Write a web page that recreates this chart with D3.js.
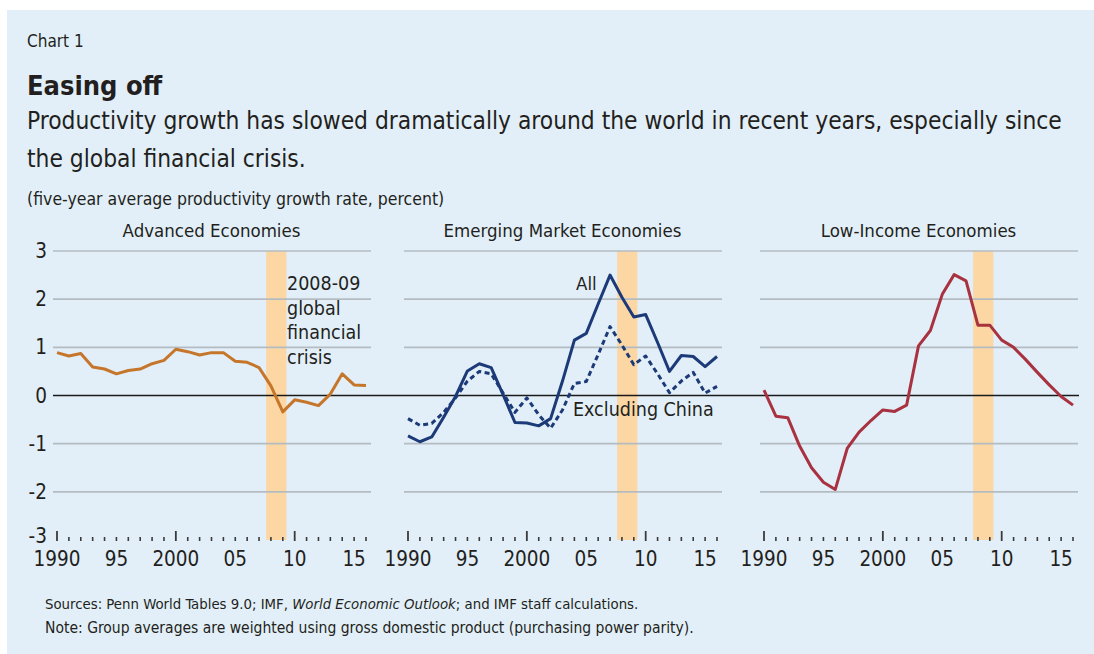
<!DOCTYPE html>
<html><head><meta charset="utf-8">
<script src="https://cdn.jsdelivr.net/npm/d3@7"></script>
<style>
html,body{margin:0;padding:0;background:#fff;}
svg text{font-family:"Liberation Sans Narrow","Arial Narrow","DejaVu Sans Condensed",sans-serif;fill:#231f20;}
</style></head>
<body><svg id="c" width="1094" height="654"></svg>
<script>
const years = d3.range(1990, 2017);
const advanced = [0.89,0.82,0.87,0.59,0.55,0.45,0.52,0.55,0.66,0.73,0.96,0.91,0.84,0.89,0.89,0.71,0.69,0.58,0.2,-0.34,-0.09,-0.14,-0.21,0.03,0.45,0.22,0.21];
const emAll = [-0.84,-0.96,-0.86,-0.45,-0.02,0.51,0.66,0.58,0.02,-0.56,-0.57,-0.63,-0.48,0.3,1.15,1.29,1.9,2.5,2.04,1.63,1.68,1.1,0.5,0.83,0.81,0.6,0.81];
const emExChina = [-0.48,-0.62,-0.58,-0.35,-0.05,0.3,0.5,0.45,0.05,-0.35,-0.05,-0.4,-0.68,-0.3,0.25,0.29,0.85,1.43,1.05,0.64,0.82,0.45,0.06,0.3,0.48,0.05,0.19];
const lowIncome = [0.11,-0.43,-0.46,-1.05,-1.5,-1.8,-1.95,-1.1,-0.76,-0.52,-0.3,-0.33,-0.2,1.03,1.35,2.1,2.51,2.38,1.46,1.46,1.15,1.0,0.75,0.48,0.22,-0.02,-0.2];
const panelTitles = ["Advanced Economies","Emerging Market Economies","Low-Income Economies"];
const yTicks = [3,2,1,0,-1,-2,-3];
const xTickYears = [1990,1995,2000,2005,2010,2015];
const xTickLabels = ["1990","95","2000","05","10","15"];
const crisis = [2007.6, 2009.3];

const svg = d3.select("#c");
svg.append("rect").attr("x",7).attr("y",10).attr("width",1087).attr("height",644).attr("fill","#e2eff8");

const y = d3.scaleLinear().domain([-3,3]).range([540,251]);
const panelX = [57,408,764];
const W = 309;

// header
svg.append("text").attr("x",27).attr("y",47).attr("font-size",17).text("Chart 1");
svg.append("text").attr("x",27).attr("y",95).attr("font-size",27).attr("font-weight","bold").text("Easing off");
svg.append("text").attr("x",27).attr("y",129).attr("font-size",24.3)
  .text("Productivity growth has slowed dramatically around the world in recent years, especially since");
svg.append("text").attr("x",27).attr("y",167).attr("font-size",24.3).text("the global financial crisis.");
svg.append("text").attr("x",27).attr("y",205).attr("font-size",17.5).text("(five-year average productivity growth rate, percent)");

const series = [
  [{v:advanced, color:"#c6762a", dash:null}],
  [{v:emAll, color:"#1c3a78", dash:null},{v:emExChina, color:"#1c3a78", dash:"5,3.5"}],
  [{v:lowIncome, color:"#a8323f", dash:null}]
];

const panels = panelX.map(x0 => d3.scaleLinear().domain([1990,2016]).range([x0, x0+W]));

panels.forEach((x,i) => {
  const g = svg.append("g");
  g.append("rect").attr("x",x(crisis[0])).attr("y",y(3)).attr("width",x(crisis[1])-x(crisis[0]))
    .attr("height",y(-3)-y(3)).attr("fill","#fcd6a3");
  g.selectAll("line.grid").data([3,2,1,-1,-2]).enter().append("line")
    .attr("x1",x(1990)-4).attr("x2",x(2016)+5).attr("y1",d=>y(d)).attr("y2",d=>y(d))
    .attr("stroke","#b4bcc2").attr("stroke-width",1.6);
  g.append("text").attr("x",x(2003)).attr("y",237).attr("text-anchor","middle").attr("font-size",18.5).text(panelTitles[i]);
  g.selectAll("line.tk").data(years).enter().append("line")
    .attr("x1",d=>x(d)).attr("x2",d=>x(d)).attr("y1",d=>d%10===0?531:537).attr("y2",541)
    .attr("stroke","#3a3a3a").attr("stroke-width",d=>d%10===0?1.8:1.6);
  g.selectAll("text.xl").data(xTickYears).enter().append("text")
    .attr("x",d=>x(d)).attr("y",566).attr("text-anchor","middle").attr("font-size",20.5)
    .text((d,j)=>xTickLabels[j]);
});

svg.append("line").attr("x1",53).attr("x2",1079).attr("y1",y(0)).attr("y2",y(0)).attr("stroke","#1a1a1a").attr("stroke-width",1.6);

panels.forEach((x,i) => {
  series[i].forEach(s => {
    const line = d3.line().x((d,j)=>x(years[j])).y(d=>y(d));
    svg.append("path").datum(s.v).attr("d",line).attr("fill","none")
      .attr("stroke",s.color).attr("stroke-width",3).attr("stroke-linejoin","round")
      .attr("stroke-dasharray",s.dash);
  });
});

svg.selectAll("text.yl").data(yTicks).enter().append("text")
  .attr("x",47).attr("y",d=>d===-3?y(d)+3:y(d)+7).attr("text-anchor","end").attr("font-size",20.5).text(d=>d);

const ann = ["2008-09","global","financial","crisis"];
ann.forEach((t,k)=>{
  svg.append("text").attr("x",287).attr("y",290+k*24.5).attr("font-size",19.5).text(t);
});
svg.append("text").attr("x",576).attr("y",290).attr("font-size",18.5).text("All");
svg.append("text").attr("x",573).attr("y",416).attr("font-size",19.5).text("Excluding China");

const f1 = svg.append("text").attr("x",45).attr("y",609).attr("font-size",14.8);
f1.append("tspan").text("Sources: Penn World Tables 9.0; IMF, ");
f1.append("tspan").attr("font-style","italic").text("World Economic Outlook");
f1.append("tspan").text("; and IMF staff calculations.");
svg.append("text").attr("x",45).attr("y",633).attr("font-size",15.5)
  .text("Note: Group averages are weighted using gross domestic product (purchasing power parity).");
</script></body></html>
